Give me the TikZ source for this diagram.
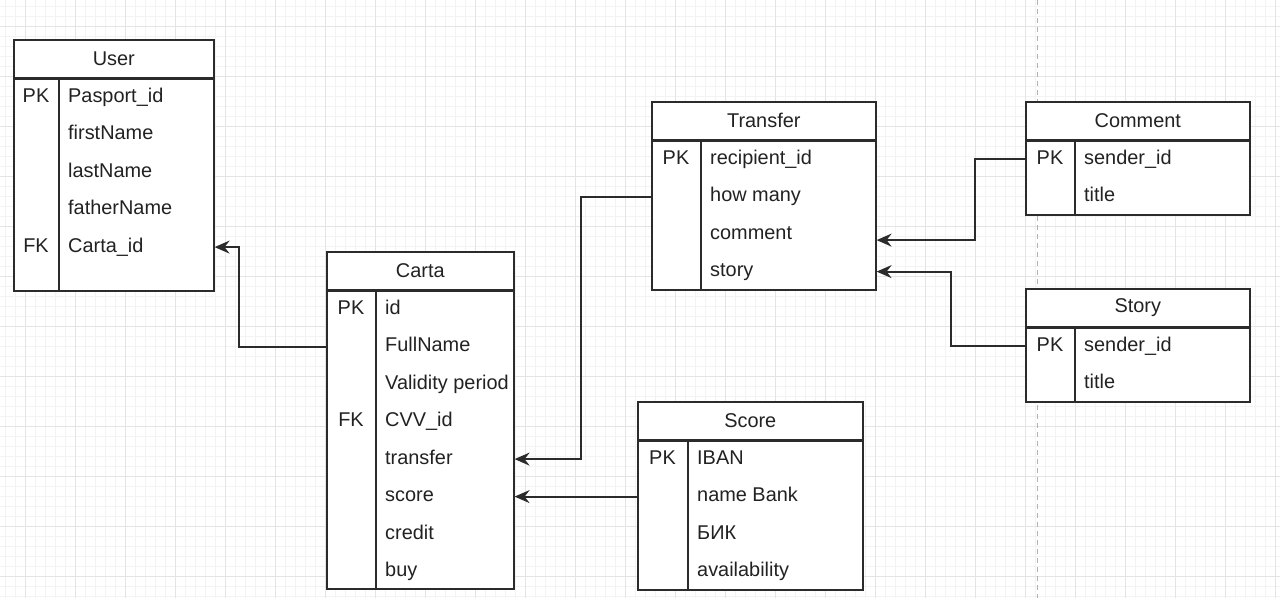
\documentclass[tikz,border=0pt]{standalone}
\usepackage{fontspec}
\setmainfont{Liberation Sans}
\usetikzlibrary{arrows.meta,calc}

\definecolor{linec}{HTML}{2B2B2B}
\definecolor{textc}{HTML}{222222}
\definecolor{gridminor}{HTML}{F3F3F3}
\definecolor{gridmajor}{HTML}{E4E4E4}

\tikzset{
    tabline/.style={draw=linec, line width=1.6pt},
    tabhead/.style={tabline, fill=white, minimum height=37.5pt, inner sep=0pt,
        text=textc, font=\fontsize{19.9}{22}\selectfont},
    tabbody/.style={tabline, fill=white, inner sep=0pt},
    keytext/.style={text=textc, inner sep=0pt, text height=14pt, text depth=4pt,
        font=\fontsize{19.9}{22}\selectfont},
    fieldtext/.style={keytext, anchor=west},
    fk/.style={draw=linec, line width=1.8pt, -{Stealth[length=15pt, width=13pt, inset=5pt]}}
}

% table: name, left, top, width, key column, body height, title, rows
\newcommand{\ertable}[8]{%
    \node[tabhead, minimum width=#4pt, anchor=north west] (#1) at (#2,#3) {#7};
    \node[tabbody, minimum width=#4pt, minimum height=#6pt, anchor=north] (#1-body) at (#1.south) {};
    \draw[tabline] ([xshift=#5pt]#1-body.north west) -- ([xshift=#5pt]#1-body.south west);
    \foreach \k/\f [count=\i from 0] in {#8} {
        \node[keytext] (#1-key-\i) at ($(#1-body.north west)+(#5/2,19+37.5*\i)$) {\k};
        \node[fieldtext] (#1-\i) at ($(#1-body.north west)+(#5+9,19+37.5*\i)$) {\f};
    }%
}

\begin{document}
\begin{tikzpicture}[x=1pt, y=-1pt]
    \useasboundingbox (0,0) rectangle (1280,598);
    \fill[white] (0,0) rectangle (1280,598);

    % grid
    \foreach \gx in {5,15,...,1275} \draw[gridminor, line width=0.8pt] (\gx,0) -- (\gx,598);
    \foreach \gy in {6,16,...,596} \draw[gridminor, line width=0.8pt] (0,\gy) -- (1280,\gy);
    \foreach \gx in {25,75,...,1275} \draw[gridmajor, line width=1pt] (\gx,0) -- (\gx,598);
    \foreach \gy in {26,76,...,576} \draw[gridmajor, line width=1pt] (0,\gy) -- (1280,\gy);
    \draw[gray!60, line width=1pt, dash pattern=on 5pt off 4pt] (1037,0) -- (1037,598);

    \ertable{user}{13}{39}{200}{46}{212}{User}
        {PK/Pasport\_id, /firstName, /lastName, /fatherName, FK/Carta\_id}
    \ertable{carta}{326}{251}{187}{50}{298}{Carta}
        {PK/id, /FullName, /Validity period, FK/CVV\_id, /transfer, /score, /credit, /buy}
    \ertable{transfer}{651}{101}{224}{50}{149}{Transfer}
        {PK/recipient\_id, /how many, /comment, /story}
    \ertable{score}{637}{401}{225}{51}{149}{Score}
        {PK/IBAN, /name Bank, /БИК, /availability}
    \ertable{comment}{1025}{101}{224}{50}{74}{Comment}
        {PK/sender\_id, /title}
    \ertable{story}{1025}{288}{224}{50}{74}{Story}
        {PK/sender\_id, /title}

    % relations
    \draw[fk] (carta-1 -| carta-body.west) -- ++(-87,0) |- (user-4 -| user-body.east);
    \draw[fk] (transfer-1 -| transfer-body.west) -- ++(-70,0) |- (carta-4 -| carta-body.east);
    \draw[fk] (score-1 -| score-body.west) -- (carta-5 -| carta-body.east);
    \draw[fk] (comment-0 -| comment-body.west) -- ++(-50,0) |- ([yshift=-6pt]transfer-2 -| transfer-body.east);
    \draw[fk] (story-0 -| story-body.west) -- ++(-74,0) |- (transfer-3 -| transfer-body.east);
\end{tikzpicture}
\end{document}
